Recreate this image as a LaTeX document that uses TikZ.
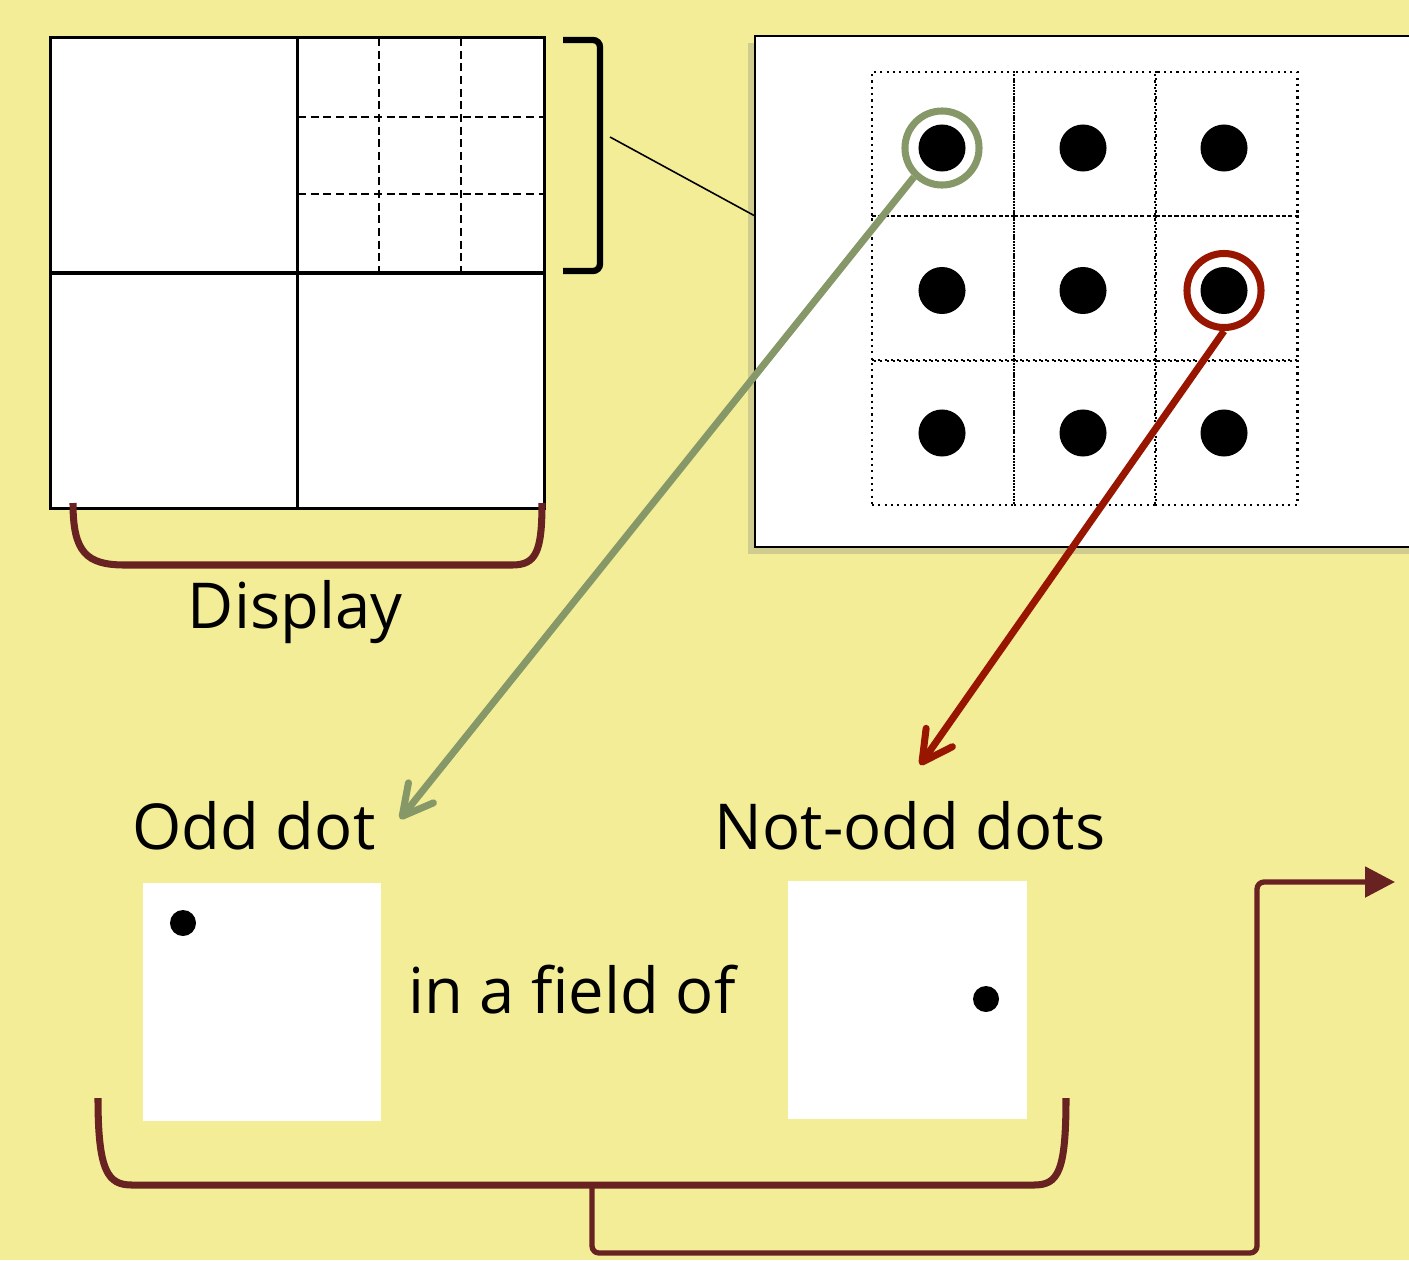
\documentclass[tikz,border=0pt]{standalone}
\usepackage{fontspec}
\setmainfont{Open Sans}
\usetikzlibrary{arrows.meta,shadows}
\definecolor{paper}{RGB}{243,237,151}
\definecolor{oddgreen}{RGB}{134,151,104}
\definecolor{oddred}{RGB}{152,22,0}
\definecolor{brace}{RGB}{104,34,34}

\begin{document}
\begin{tikzpicture}[x=0.01cm,y=-0.01cm,every node/.style={font=\fontsize{18}{22}\selectfont}]
    \tikzstyle{panel}=[draw,fill=white,inner sep=0,outer sep=0]
    \tikzstyle{fine dash}=[line width=0.55pt,dash pattern=on 2.3pt off 1.3pt]
    \tikzstyle{cell}=[draw,line width=0.6pt,dash pattern=on 0.6pt off 1.2pt,minimum width=1.42cm,minimum height=1.44cm,inner sep=0]
    \tikzstyle{dot}=[circle,fill=black,minimum size=0.47cm,inner sep=0]
    \tikzstyle{small dot}=[circle,fill=black,minimum size=0.26cm,inner sep=0]
    \tikzstyle{ring}=[circle,line width=2pt,minimum size=0.74cm,inner sep=0]
    \tikzstyle{pointer}=[line width=2pt,-{Straight Barb[length=0.3cm,width=0.32cm,round]}]
    \tikzstyle{brace line}=[brace,line width=2pt]
    \tikzstyle{square}=[fill=white,minimum size=2.38cm,inner sep=0]

    % background and page
    \fill[paper] (0,0) rectangle (1409,1260);
    \useasboundingbox (0,0) rectangle (1409,1260);
    \clip (0,0) rectangle (1409,1260);

    % display split into quadrants
    \node[panel,line width=0.9pt,minimum width=4.93cm,minimum height=4.70cm] (display) at (297.5,273) {};
    \draw[line width=0.9pt] (display.north) -- (display.south);
    \draw[line width=0.9pt] (display.west) -- (display.east);
    \foreach \x in {379,461}
        \draw[fine dash] (\x,38) -- (\x,272);
    \foreach \y in {117,194}
        \draw[fine dash] (298,\y) -- (543,\y);
    \draw[line width=1.8pt,rounded corners=2pt] (563,40) -- (600,40) -- (600,271) -- (563,271);
    \coordinate (zoomfrom) at (610,137);

    % zoomed quadrant
    \node[panel,line width=0.7pt,minimum width=7.45cm,minimum height=5.11cm,
        drop shadow={shadow xshift=-2pt,shadow yshift=-2pt,opacity=0.3}] (stim) at (1127.5,291.5) {};
    \coordinate (zoomto) at (755,216);
    \draw[line width=0.45pt] (zoomfrom) -- (zoomto);
    \foreach \i in {0,1,2}
        \foreach \j in {0,1,2}{
            \node[cell] (cell-\i-\j) at (943+141.7*\i,144+144.3*\j) {};
            \node[dot] (dot-\i-\j) at (942+141*\i,148+142.5*\j) {};
        }
    \node[ring,draw=oddgreen] (green ring) at (dot-0-0) {};
    \node[ring,draw=oddred] (red ring) at (dot-2-1) {};

    % labels and arrows
    \node (odd label) at (254,826) {Odd dot};
    \node (notodd label) at (910,826) {Not-odd dots};
    \coordinate (odd tip) at (400,819);
    \coordinate (notodd tip) at (920,765);
    \draw[pointer,oddgreen] (green ring.226) -- (odd tip);
    \draw[pointer,oddred] (red ring.south) -- (notodd tip);

    % display brace
    \draw[brace line] (73,503) .. controls (73,552) and (86,565) .. (125,565) -- (512,565) .. controls (536,565) and (542,552) .. (542,503);
    \node (display label) at (295,612) {Display};

    % example stimuli
    \node[square] (odd square) at (262,1002) {};
    \node[small dot] (odd dot) at (183,923) {};
    \node (field label) at (572,990) {in a field of};
    \node[square] (notodd square) at (907.5,1000) {};
    \node[small dot] (notodd dot) at (986,999) {};

    % bottom brace and flow out
    \draw[brace line] (98,1098) .. controls (98,1172) and (108,1185) .. (132,1185) -- (1034,1185) .. controls (1058,1185) and (1066,1172) .. (1066,1098);
    \coordinate (brace mid) at (592,1185);
    \coordinate (flow out) at (1395,882);
    \draw[brace line,line width=1.5pt,rounded corners=2pt,-{Triangle[length=0.3cm,width=0.3cm]}] (brace mid) -- (592,1253) -| (1257,882) -- (flow out);
\end{tikzpicture}
\end{document}
